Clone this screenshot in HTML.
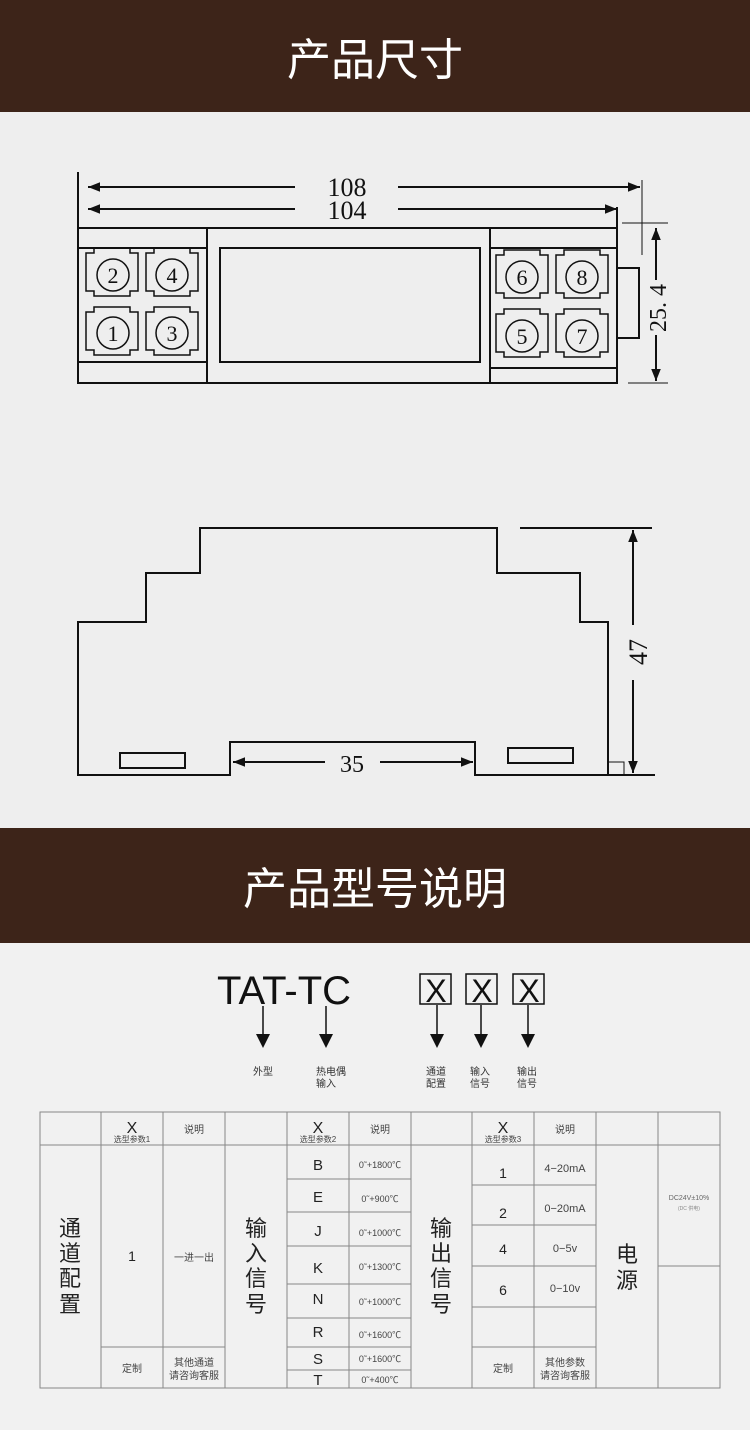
<!DOCTYPE html>
<html><head><meta charset="utf-8"><style>
body{margin:0;width:750px;height:1430px;background:#eeeeee;position:relative;overflow:hidden;font-family:"Liberation Sans","Noto Sans CJK SC",sans-serif;}
.hd{position:absolute;left:0;width:750px;background:#3d2419;color:#fff;text-align:center;font-family:"Noto Sans CJK SC",sans-serif;font-size:44px;}
svg{position:absolute;left:0;top:0}
</style></head><body>
<div class="hd" style="top:0;height:112px;line-height:112px;">产品尺寸</div>
<div class="hd" style="top:828px;height:115px;line-height:115px;">产品型号说明</div>
<svg width="750" height="1430" viewBox="0 0 750 1430">
<rect x="0" y="943" width="750" height="487" fill="#f1f1f1"/>
<defs>
<marker id="a" viewBox="0 0 10 10" refX="10" refY="5" markerWidth="6" markerHeight="6" orient="auto-start-reverse"><path d="M0,1L10,5L0,9z" fill="#111"/></marker>
</defs>
<g stroke="#111" stroke-width="2" fill="none" font-family="Liberation Serif,serif">
<!-- top drawing -->
<line x1="78" y1="172" x2="78" y2="383"/>
<line x1="88" y1="187" x2="295" y2="187" marker-start="url(#a)"/>
<line x1="398" y1="187" x2="640" y2="187" marker-end="url(#a)"/>
<line x1="88" y1="209" x2="295" y2="209" marker-start="url(#a)"/>
<line x1="398" y1="209" x2="617" y2="209" marker-end="url(#a)"/>
<line x1="642" y1="180" x2="642" y2="255" stroke-width="1"/>
<rect x="78" y="228" width="539" height="155"/>
<line x1="78" y1="248" x2="207" y2="248"/><line x1="78" y1="362" x2="207" y2="362"/>
<line x1="490" y1="248" x2="617" y2="248"/><line x1="490" y1="368" x2="617" y2="368"/>
<rect x="207" y="228" width="283" height="155"/>
<rect x="220" y="248" width="260" height="114"/>
<line x1="617" y1="207" x2="617" y2="383"/>
<rect x="617" y="268" width="22" height="70"/>
<line x1="622" y1="223" x2="668" y2="223" stroke-width="1"/>
<line x1="628" y1="383" x2="668" y2="383" stroke-width="1"/>
<line x1="656" y1="228" x2="656" y2="280" marker-start="url(#a)"/>
<line x1="656" y1="335" x2="656" y2="381" marker-end="url(#a)"/>
<g stroke-width="1.5">
<path d="M86,253h8v-5h36v5h8v38h-8v5h-36v-5h-8z"/><path d="M146,253h8v-5h36v5h8v38h-8v5h-36v-5h-8z"/>
<path d="M86,312h8v-5h36v5h8v38h-8v5h-36v-5h-8z"/><path d="M146,312h8v-5h36v5h8v38h-8v5h-36v-5h-8z"/>
<path d="M496,255h8v-5h36v5h8v38h-8v5h-36v-5h-8z"/><path d="M556,255h8v-5h36v5h8v38h-8v5h-36v-5h-8z"/>
<path d="M496,314h8v-5h36v5h8v38h-8v5h-36v-5h-8z"/><path d="M556,314h8v-5h36v5h8v38h-8v5h-36v-5h-8z"/>
<circle cx="113" cy="275" r="16"/><circle cx="172" cy="275" r="16"/><circle cx="113" cy="333" r="16"/><circle cx="172" cy="333" r="16"/>
<circle cx="522" cy="277" r="16"/><circle cx="582" cy="277" r="16"/><circle cx="522" cy="336" r="16"/><circle cx="582" cy="336" r="16"/>
</g>
<g stroke="none" fill="#111" font-size="22" text-anchor="middle">
<text x="113" y="283">2</text><text x="172" y="283">4</text><text x="113" y="341">1</text><text x="172" y="341">3</text>
<text x="522" y="285">6</text><text x="582" y="285">8</text><text x="522" y="344">5</text><text x="582" y="344">7</text>
<text x="347" y="196" font-size="26">108</text><text x="347" y="219" font-size="26">104</text>
<text x="0" y="0" font-size="24" transform="translate(666,308) rotate(-90)">25. 4</text>
<text x="352" y="772" font-size="24">35</text>
<text x="0" y="0" font-size="26" transform="translate(647,652) rotate(-90)">47</text>
</g>
<!-- side drawing -->
<path d="M78,775V622H146V573H200V528H497V573H580V622H608V775H475V742H230V775Z" stroke-width="2"/>
<rect x="120" y="753" width="65" height="15"/><rect x="508" y="748" width="65" height="15"/>
<line x1="520" y1="528" x2="652" y2="528"/><line x1="608" y1="775" x2="655" y2="775"/>
<rect x="608" y="762" width="16" height="13" stroke-width="1"/>
<line x1="633" y1="530" x2="633" y2="625" marker-start="url(#a)"/>
<line x1="633" y1="680" x2="633" y2="773" marker-end="url(#a)"/>
<line x1="233" y1="762" x2="325" y2="762" marker-start="url(#a)"/>
<line x1="380" y1="762" x2="473" y2="762" marker-end="url(#a)"/>
</g>
<!-- model -->
<g font-family="Liberation Sans,Noto Sans CJK SC,sans-serif" fill="#111">
<text x="217" y="1004" font-size="40">TAT-TC</text>
<g stroke="#111" stroke-width="1.5" fill="none">
<rect x="420" y="974" width="31" height="30"/><rect x="466" y="974" width="31" height="30"/><rect x="513" y="974" width="31" height="30"/>
</g>
<g font-size="32" text-anchor="middle"><text x="436" y="1002">X</text><text x="482" y="1002">X</text><text x="529" y="1002">X</text></g>
<g stroke="#111" stroke-width="1.5">
<line x1="263" y1="1006" x2="263" y2="1035"/><line x1="326" y1="1006" x2="326" y2="1035"/><line x1="437" y1="1005" x2="437" y2="1035"/><line x1="481" y1="1005" x2="481" y2="1035"/><line x1="528" y1="1005" x2="528" y2="1035"/>
</g>
<path d="M256,1034h14l-7,14z M319,1034h14l-7,14z M430,1034h14l-7,14z M474,1034h14l-7,14z M521,1034h14l-7,14z"/>
<g font-size="10" fill="#333" font-family="Noto Sans CJK SC,sans-serif">
<text x="253" y="1075">外型</text><text x="316" y="1075">热电偶</text><text x="316" y="1087">输入</text>
<text x="426" y="1075">通道</text><text x="426" y="1087">配置</text><text x="470" y="1075">输入</text><text x="470" y="1087">信号</text><text x="517" y="1075">输出</text><text x="517" y="1087">信号</text>
</g>
</g>
<!-- table -->
<g stroke="#888" stroke-width="1" fill="none">
<rect x="40" y="1112" width="680" height="276"/>
<line x1="40" y1="1145" x2="720" y2="1145"/>
<path d="M101,1112V1388M163,1112V1388M225,1112V1388M287,1112V1388M349,1112V1388M411,1112V1388M472,1112V1388M534,1112V1388M596,1112V1388M658,1112V1388"/>
<path d="M101,1347H225"/>
<path d="M287,1179H411M287,1212H411M287,1246H411M287,1284H411M287,1318H411M287,1347H411M287,1370H411"/>
<path d="M472,1185H596M472,1225H596M472,1266H596M472,1307H596M472,1347H596"/>
<path d="M658,1266H720"/>
</g>
<g fill="#222" font-family="Liberation Sans,Noto Sans CJK SC,sans-serif" text-anchor="middle">
<g font-size="16"><text x="132" y="1133">X</text><text x="318" y="1133">X</text><text x="503" y="1133">X</text></g>
<g font-size="8" fill="#444"><text x="132" y="1142">选型参数1</text><text x="318" y="1142">选型参数2</text><text x="503" y="1142">选型参数3</text></g>
<g font-size="10" fill="#444"><text x="194" y="1133">说明</text><text x="380" y="1133">说明</text><text x="565" y="1133">说明</text></g>
<g font-size="22" font-family="Noto Sans CJK SC,sans-serif">
<text x="70" y="1236">通</text><text x="70" y="1261">道</text><text x="70" y="1286">配</text><text x="70" y="1312">置</text>
<text x="256" y="1236">输</text><text x="256" y="1261">入</text><text x="256" y="1286">信</text><text x="256" y="1312">号</text>
<text x="441" y="1236">输</text><text x="441" y="1261">出</text><text x="441" y="1286">信</text><text x="441" y="1312">号</text>
<text x="627" y="1262">电</text><text x="627" y="1288">源</text>
</g>
<text x="132" y="1261" font-size="14">1</text>
<g font-size="10" fill="#444"><text x="194" y="1261">一进一出</text><text x="132" y="1372">定制</text><text x="194" y="1366">其他通道</text><text x="194" y="1379">请咨询客服</text>
<text x="503" y="1372">定制</text><text x="565" y="1366">其他参数</text><text x="565" y="1379">请咨询客服</text></g>
<g font-size="15"><text x="318" y="1170">B</text><text x="318" y="1202">E</text><text x="318" y="1236">J</text><text x="318" y="1273">K</text><text x="318" y="1304">N</text><text x="318" y="1337">R</text><text x="318" y="1364">S</text><text x="318" y="1385">T</text></g>
<g font-size="9" fill="#444"><text x="380" y="1168">0˜+1800℃</text><text x="380" y="1202">0˜+900℃</text><text x="380" y="1236">0˜+1000℃</text><text x="380" y="1270">0˜+1300℃</text><text x="380" y="1305">0˜+1000℃</text><text x="380" y="1338">0˜+1600℃</text><text x="380" y="1362">0˜+1600℃</text><text x="380" y="1383">0˜+400℃</text></g>
<g font-size="14"><text x="503" y="1178">1</text><text x="503" y="1218">2</text><text x="503" y="1254">4</text><text x="503" y="1295">6</text></g>
<g font-size="11" fill="#444"><text x="565" y="1172">4−20mA</text><text x="565" y="1212">0−20mA</text><text x="565" y="1252">0−5v</text><text x="565" y="1292">0−10v</text></g>
<text x="689" y="1200" font-size="7" fill="#666">DC24V±10%</text><text x="689" y="1210" font-size="5" fill="#888">(DC 供电)</text>
</g>
</svg>
</body></html>
